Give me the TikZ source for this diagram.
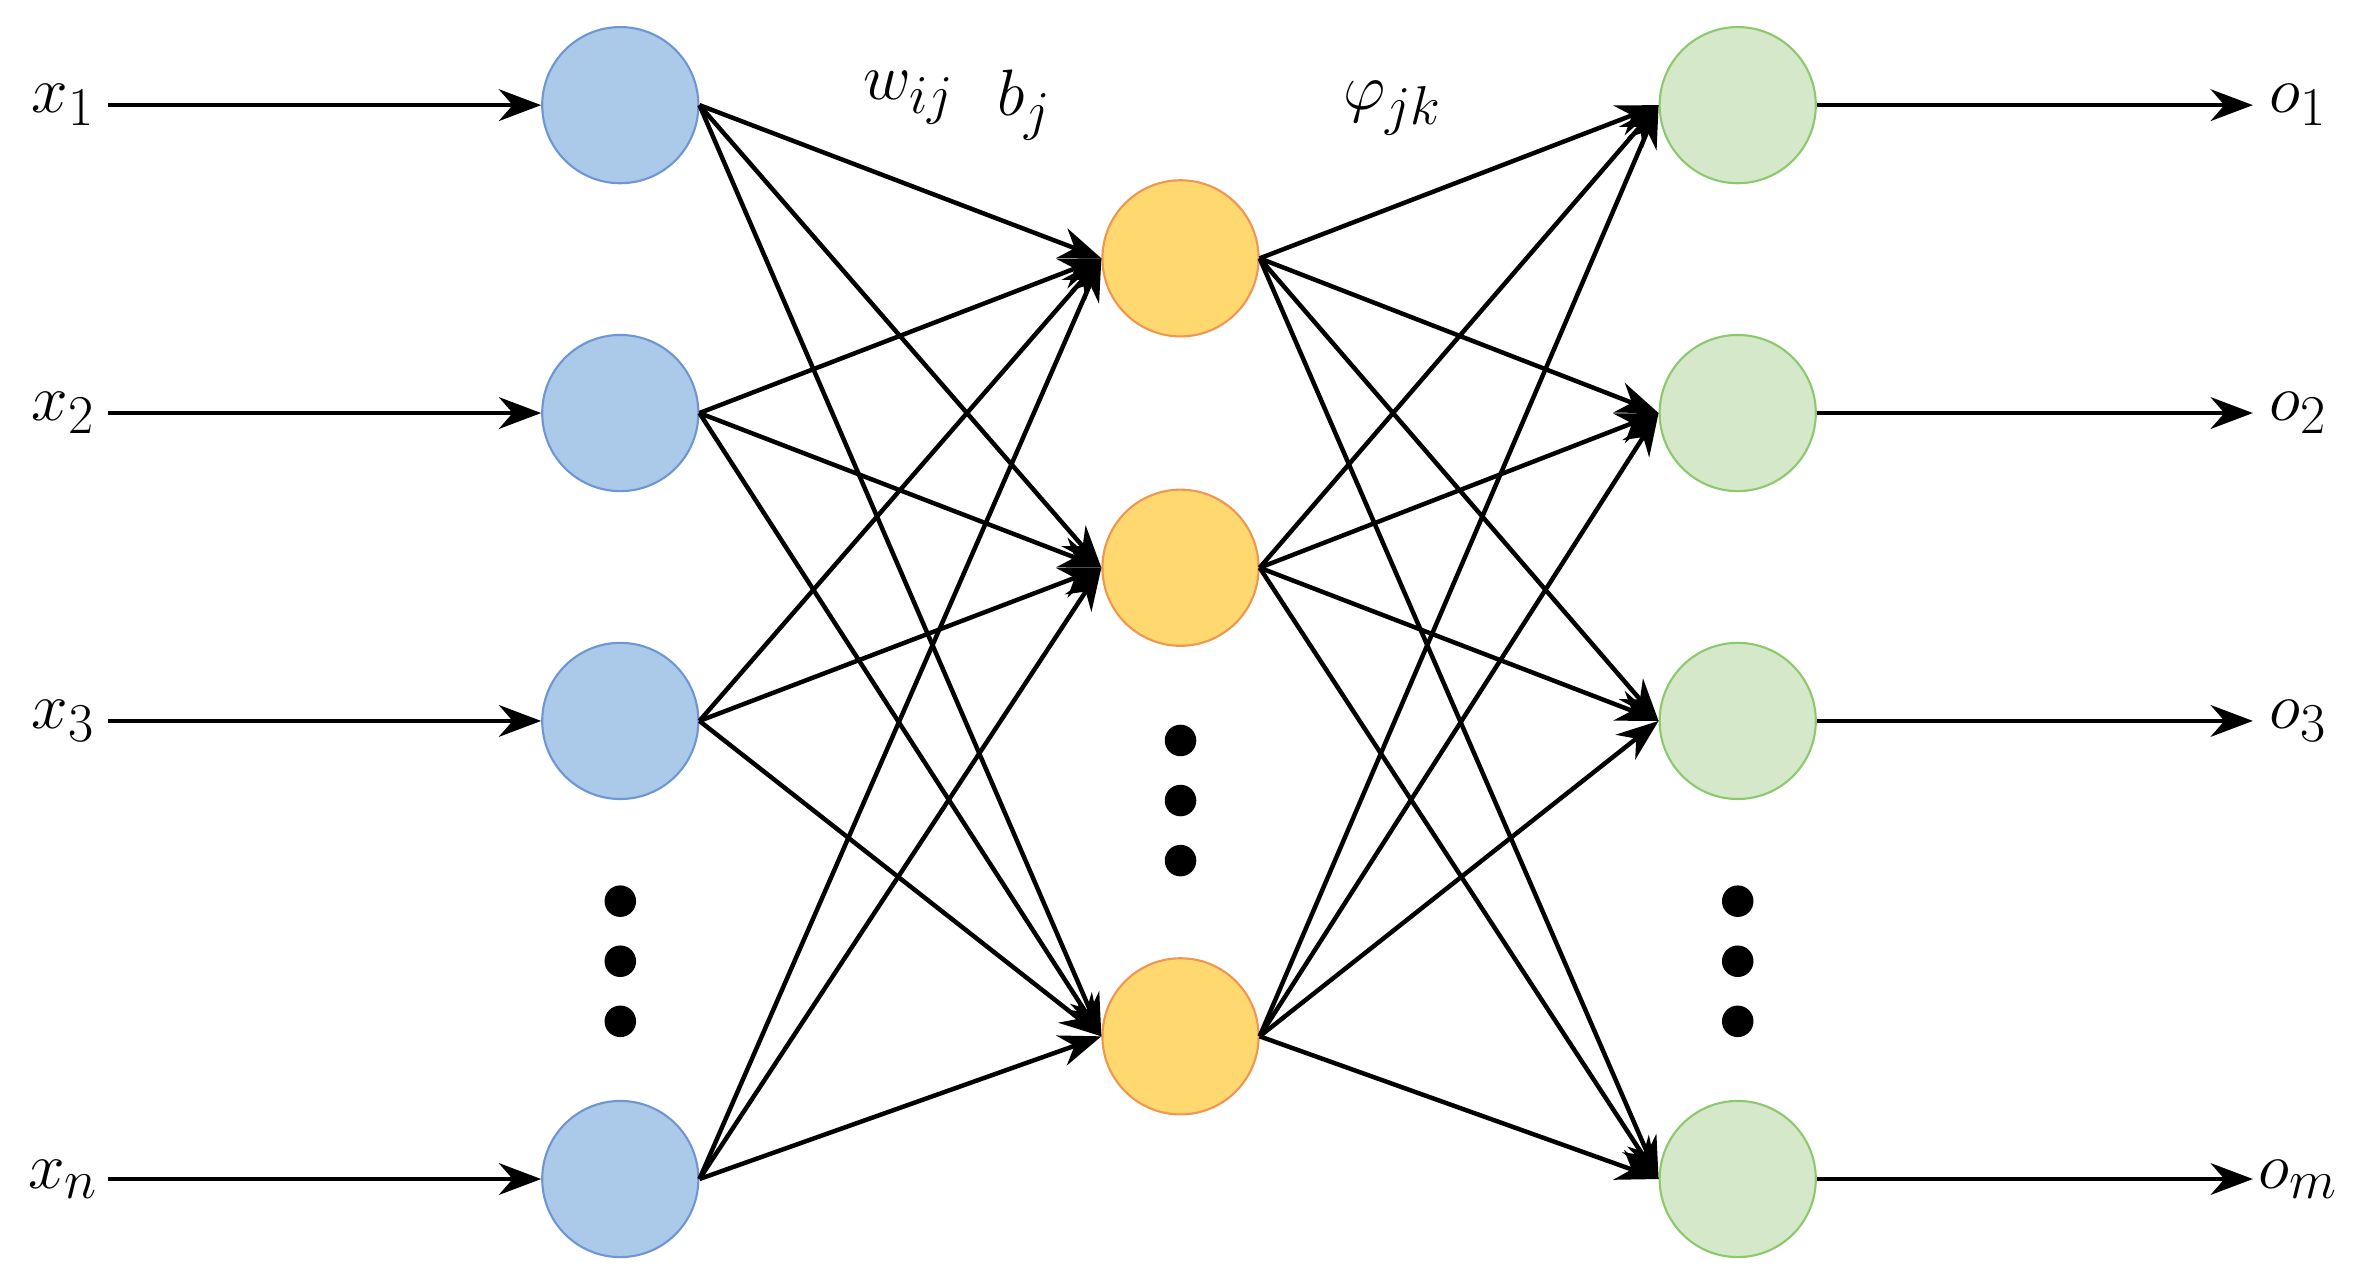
\documentclass[tikz,border=0pt]{standalone}
\usetikzlibrary{arrows.meta}
\begin{document}
\begin{tikzpicture}[x=0.02cm,y=-0.02cm,
 neu/.style={circle,minimum size=2.08cm,inner sep=0pt,line width=0.8pt},
 inn/.style={neu,fill={rgb,255:red,171;green,201;blue,232},draw={rgb,255:red,110;green,150;blue,210}},
 hid/.style={neu,fill={rgb,255:red,255;green,217;blue,112},draw={rgb,255:red,240;green,150;blue,80}},
 outn/.style={neu,fill={rgb,255:red,213;green,232;blue,201},draw={rgb,255:red,140;green,200;blue,110}},
 con/.style={line width=1.7pt,-{Stealth[length=16pt,width=12pt]}},
 lab/.style={font=\fontsize{30}{32}\selectfont},
 dot/.style={circle,fill=black,minimum size=0.42cm,inner sep=0pt}]
\useasboundingbox (0,0) rectangle (1568,853);
\foreach \n/\y/\s in {1/70/1,2/275/2,3/480/3,4/785/n}{
 \node[inn] (i\n) at (413,\y) {};
 \node[lab] (x\n) at (42,\y) {$x_{\s}$};
 \coordinate (xs\n) at (72,\y);
 \draw[con] (xs\n) -- (i\n);
}
\foreach \n/\y/\s in {1/70/1,2/275/2,3/480/3,4/785/m}{
 \node[outn] (o\n) at (1157,\y) {};
 \node[lab] (ol\n) at (1530,\y) {$o_{\s}$};
 \coordinate (oe\n) at (1500,\y);
 \draw[con] (o\n) -- (oe\n);
}
\foreach \n/\y in {1/172,2/378,3/690}{\node[hid] (h\n) at (786,\y) {};}
\foreach \a in {1,2,3,4}{\foreach \b in {1,2,3}{\draw[con] (i\a.east) -- (h\b.west);}}
\foreach \b in {1,2,3}{\foreach \c in {1,2,3,4}{\draw[con] (h\b.east) -- (o\c.west);}}
\foreach \k/\x/\y in {a/413/600,b/413/640,c/413/680,d/786/493,e/786/533,f/786/573,g/1157/600,h/1157/640,i/1157/680}{\node[dot] (d\k) at (\x,\y) {};}
\node[lab] (w) at (605,65) {$w_{ij}$};
\node[lab] (b) at (682,70) {$b_{j}$};
\node[lab] (p) at (927,72) {$\varphi_{jk}$};
\end{tikzpicture}
\end{document}
